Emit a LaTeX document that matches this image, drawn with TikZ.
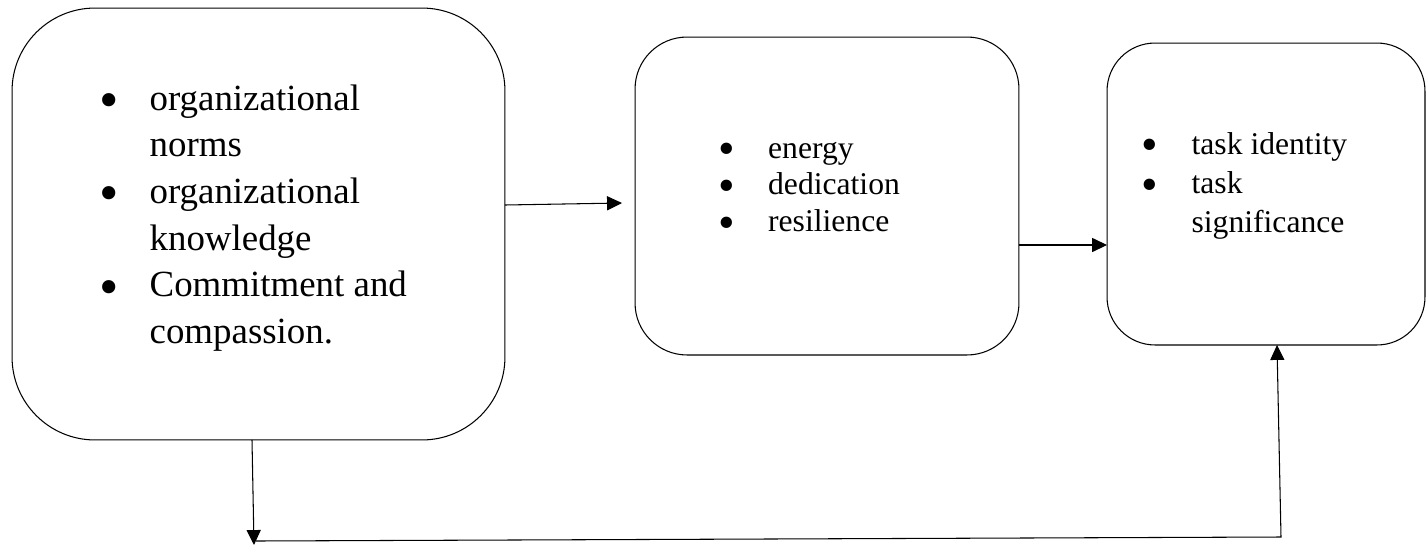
\documentclass[tikz,border=0pt]{standalone}
\usepackage{fontspec}
\setmainfont{Liberation Serif}
\usetikzlibrary{arrows.meta, positioning, calc}

\newcommand{\itembullet}{\makebox[27.2pt][l]{\hspace{-0.06em}\smash{\raisebox{-0.22em}{\scalebox{1.5}{\textbullet}}}}}

\begin{document}
\begin{tikzpicture}[
    x=0.02cm, y=-0.02cm,
    % Define box styles
    stage/.style={
        rectangle,
        draw=black,
        line width=0.6pt,
        inner sep=0pt,
        outer sep=0pt
    },
    items/.style={
        inner sep=0pt,
        anchor=base west,
        align=left
    },
    flow/.style={
        line width=0.6pt,
        -{Triangle[length=8.5pt, width=8pt]}
    }
]
    \useasboundingbox (0, 0) rectangle (1427, 545);

    % =================================================================
    % --- Boxes ---
    % =================================================================
    \node[stage, rounded corners=1.66cm, minimum width=9.86cm, minimum height=8.64cm] (norms_box) at (258.5, 224) {};
    \node[stage, rounded corners=1.04cm, minimum width=7.68cm, minimum height=6.36cm] (energy_box) at (827, 196) {};
    \node[stage, rounded corners=0.96cm, minimum width=6.36cm, minimum height=6.04cm] (task_box) at (1266, 194) {};

    % Bullet lists
    \node[items, font=\fontsize{21pt}{26.6pt}\selectfont] (norms_txt) at (101.5, 110) {%
        \begin{tabular}[t]{@{}l@{}l@{}}
            \itembullet & organizational\\
                        & norms\\
            \itembullet & organizational\\
                        & knowledge\\
            \itembullet & Commitment and\\
                        & compassion.
        \end{tabular}};
    \node[items, font=\fontsize{18pt}{21pt}\selectfont] (energy_txt) at (720, 158) {%
        \begin{tabular}[t]{@{}l@{}l@{}}
            \itembullet & energy\\
            \itembullet & dedication\\
            \itembullet & resilience
        \end{tabular}};
    \node[items, font=\fontsize{18pt}{22.4pt}\selectfont] (task_txt) at (1143.5, 154) {%
        \begin{tabular}[t]{@{}l@{}l@{}}
            \itembullet & task identity\\
            \itembullet & task\\
                        & significance
        \end{tabular}};

    % =================================================================
    % --- Arrows ---
    % =================================================================
    \coordinate (norms_tip) at (622, 203);
    \draw[flow] (norms_box.east |- 0, 205) -- (norms_tip);
    \draw[flow] (energy_box.east |- 0, 245) -- (task_box.west |- 0, 245);

    % Loop underneath
    \coordinate (down_tip) at (254, 545);
    \coordinate (loop_start) at (256, 541);
    \coordinate (loop_corner) at (1281, 537);
    \draw[flow] (norms_box.south -| 252, 0) -- (down_tip);
    \draw[flow] (loop_start) -- (loop_corner) -- (task_box.south -| 1277, 0);
\end{tikzpicture}
\end{document}
